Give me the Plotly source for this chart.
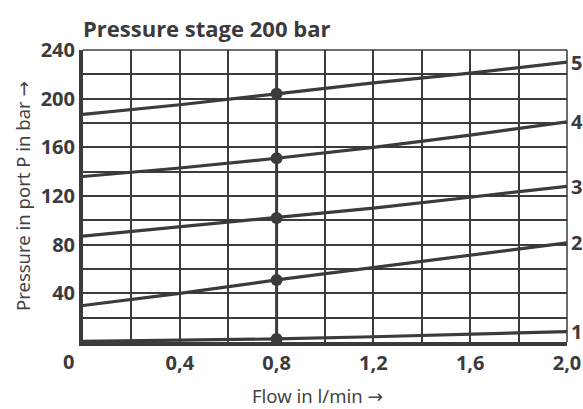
import plotly.graph_objects as go

# Data
flow = [0.0, 0.4, 0.8, 1.2, 1.6, 2.0]
curve_1 = [0.5, 1.2, 2.5, 4.3, 6.3, 8.5]
curve_2 = [30, 40, 51, 61, 71, 81.5]
curve_3 = [87, 94.5, 102, 110, 119, 128]
curve_4 = [136, 143, 151, 160, 170, 181]
curve_5 = [187, 195, 204, 213, 221, 230]
curve_names = ["1", "2", "3", "4", "5"]
marker_flow = 0.8

x_tick_vals = [0, 0.2, 0.4, 0.6, 0.8, 1.0, 1.2, 1.4, 1.6, 1.8, 2.0]
x_tick_text = ["", "", "0,4", "", "0,8", "", "1,2", "", "1,6", "", "2,0"]
origin_label = "0"
y_tick_vals = list(range(0, 241, 20))
y_tick_text = ["", "", "40", "", "80", "", "120", "", "160", "", "200", "", "240"]

INK = "#3b3b3b"
TICK_FONT = dict(size=20, color=INK, family="Open Sans", weight="bold")
TITLE_FONT = dict(size=18.5, color="#444444", family="Noto Sans")
ARROW = '<span style="font-family:DejaVu Sans">→</span>'
curves = [curve_1, curve_2, curve_3, curve_4, curve_5]

W, H = 583, 409
ML, MR, MT, MB = 83, 16, 50, 67
plot_w = W - ML - MR
plot_h = H - MT - MB

fig = go.Figure()

# vertical reference line at 0.8 l/min
fig.add_trace(go.Scatter(x=[marker_flow, marker_flow], y=[0, 240], mode="lines",
                         line=dict(color=INK, width=3), hoverinfo="skip", showlegend=False))

idx = flow.index(marker_flow)
for name, ys in zip(curve_names, curves):
    fig.add_trace(go.Scatter(x=flow, y=ys, mode="lines", line=dict(color=INK, width=3.2),
                             showlegend=False, name=name))
    fig.add_trace(go.Scatter(x=[marker_flow], y=[ys[idx]], mode="markers",
                             marker=dict(color=INK, size=12), showlegend=False))
    fig.add_annotation(x=1, xref="paper", y=ys[-1], yref="y", text=f"<b>{name}</b>",
                       showarrow=False, xanchor="left", xshift=2,
                       font=dict(size=20, color=INK, family="Open Sans"))

# origin label shared by both axes
fig.add_annotation(x=0, xref="x", y=0, yref="y", text=f"<b>{origin_label}</b>",
                   showarrow=False, xanchor="center", yanchor="top", xshift=-15, yshift=-4,
                   font=TICK_FONT)

# axis titles
fig.add_annotation(x=0.485, xref="paper", y=-53 / plot_h, yref="paper",
                   text="Flow in l/min " + ARROW, showarrow=False,
                   xanchor="center", yanchor="middle", font=TITLE_FONT)
fig.add_annotation(x=-(ML - 22) / plot_w, xref="paper", y=0.5, yref="paper",
                   text="Pressure in port P in bar " + ARROW, showarrow=False, textangle=-90,
                   xanchor="center", yanchor="middle", font=TITLE_FONT)

# thin top and right border
fig.add_shape(type="line", xref="paper", yref="paper", x0=0, x1=1, y0=1, y1=1,
              line=dict(color=INK, width=1.5))
fig.add_shape(type="line", xref="paper", yref="paper", x0=1, x1=1, y0=0, y1=1,
              line=dict(color=INK, width=1.5))

fig.update_layout(
    width=W, height=H,
    margin=dict(l=ML, r=MR, t=MT, b=MB, autoexpand=False),
    paper_bgcolor="white", plot_bgcolor="white",
    title=dict(text="<b>Pressure stage 200 bar</b>", x=ML / W, xanchor="left",
               y=1 - 29 / H, yanchor="middle",
               font=dict(size=22, color=INK, family="Open Sans")),
    font=dict(family="Open Sans", color=INK),
)
fig.update_xaxes(range=[0, 2.0], tickvals=x_tick_vals, ticktext=x_tick_text,
                 showgrid=True, gridcolor=INK, gridwidth=1.5, zeroline=False,
                 showline=True, linecolor=INK, linewidth=4, ticks="",
                 tickfont=TICK_FONT, automargin=False)
fig.update_yaxes(range=[0, 240], tickvals=y_tick_vals, ticktext=y_tick_text,
                 showgrid=True, gridcolor=INK, gridwidth=1.5, zeroline=False,
                 showline=True, linecolor=INK, linewidth=4, ticks="",
                 tickfont=TICK_FONT, automargin=False)

fig.write_html("out.html")
